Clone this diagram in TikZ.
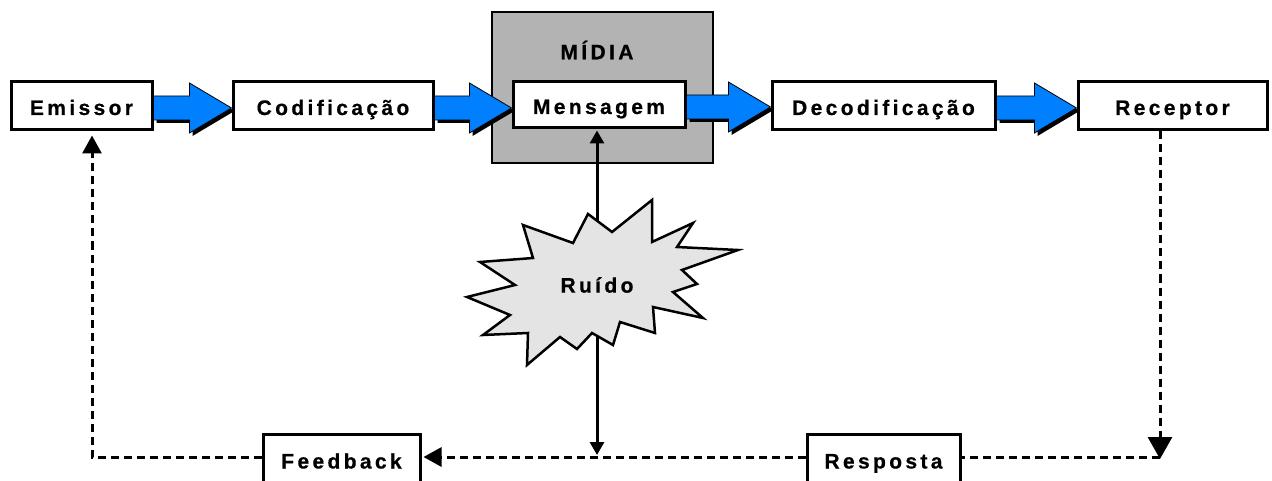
\documentclass[tikz,border=0pt]{standalone}
\usepackage{fontspec}
\newfontfamily\lblfont{Liberation Sans}[LetterSpace=16,BoldFeatures={FakeBold=0.6}]
\usetikzlibrary{arrows.meta,calc}
\definecolor{flowblue}{RGB}{0,128,255}
\definecolor{mediagray}{RGB}{179,179,179}
\definecolor{noisegray}{RGB}{228,228,228}

% block arrow between two boxes: shadow first, then the blue body
\newcommand\blockarrow[2]{%
  \path let \p1=(#1.east), \p2=(#2.west) in
    [fill=black] (\x1+3pt,\y1-2pt+12pt-3pt) -- (\x2-42pt+3pt,\y1-2pt+12pt-3pt)
      -- (\x2-42pt+3pt,\y1-2pt+25pt-3pt) -- (\x2+3pt,\y1-2pt-3pt)
      -- (\x2-42pt+3pt,\y1-2pt-25pt-3pt) -- (\x2-42pt+3pt,\y1-2pt-12pt-3pt)
      -- (\x1+3pt,\y1-2pt-12pt-3pt) -- cycle;
  \path let \p1=(#1.east), \p2=(#2.west) in
    [blockbody] (\x1,\y1-2pt+12pt) -- (\x2-42pt,\y1-2pt+12pt)
      -- (\x2-42pt,\y1-2pt+25pt) -- (\x2,\y1-2pt)
      -- (\x2-42pt,\y1-2pt-25pt) -- (\x2-42pt,\y1-2pt-12pt)
      -- (\x1,\y1-2pt-12pt) -- cycle;}

\begin{document}
\begin{tikzpicture}[x=1pt,y=-1pt,
  lbl/.style={font=\lblfont\bfseries\fontsize{21}{24}\selectfont},
  box/.style={lbl,draw,line width=3pt,fill=white,inner sep=0pt,minimum height=48pt,
    text height=18pt,text depth=0pt},
  openbox/.style={lbl,draw,line width=3pt,fill=white,anchor=north,inner xsep=0pt,
    inner ysep=12pt,text height=22pt,text depth=30pt},
  blockbody/.style={fill=flowblue,draw=black,line width=0.8pt},
  feed/.style={line width=3pt,dash pattern=on 8pt off 5pt},
  tip/.style={-{Triangle[length=18pt,width=19pt]}},
  solidtip/.style={{Triangle[length=13pt,width=14pt]}-{Triangle[length=13pt,width=14pt]}}]

\path[use as bounding box] (0,0) rectangle (1272,481);
\clip (0,0) rectangle (1272,481);

% the medium
\node[draw,line width=2pt,fill=mediagray,minimum width=221pt,minimum height=151pt,
  inner sep=0pt] (midia) at (602.5,87.5) {};
\node[lbl] (midialbl) at (597,50) {MÍDIA};

% main chain
\node[box,minimum width=141pt] (emissor) at (81.5,106) {Emissor};
\node[box,minimum width=200pt] (codif) at (333,106) {Codificação};
\node[box,minimum width=172pt,minimum height=46pt] (msg) at (599,105) {Mensagem};
\node[box,minimum width=223pt] (decod) at (883.5,106) {Decodificação};
\node[box,minimum width=189pt] (receptor) at (1172.5,106) {Receptor};

% return path
\node[openbox,minimum width=157pt] (feedback) at (341.5,433) {Feedback};
\node[openbox,minimum width=153pt] (resposta) at (883.5,433) {Resposta};

\coordinate (cR) at (1160,457);
\coordinate (cL) at (92,457);
\coordinate (noise) at (597,285);

\blockarrow{emissor}{codif}
\blockarrow{codif}{msg}
\blockarrow{msg}{decod}
\blockarrow{decod}{receptor}

% feedback loop
\draw[feed,-{Triangle[length=22pt,width=24pt]}] (receptor.south -| cR) -- ([yshift=-2pt]cR);
\draw[feed] (cR) -- (resposta.east |- cR);
\draw[feed,tip] (resposta.west |- cR) -- ([xshift=2pt]feedback.east |- cR);
\draw[feed,tip,shorten >=4pt] (feedback.west |- cR) -- (cL) -- (emissor.south -| cL);

% noise acting on the message
\draw[line width=3pt,solidtip,shorten <=1pt,shorten >=2pt] (msg.south -| noise) -- (noise |- cR);

\draw[fill=noisegray,line width=2.5pt,line join=miter]
  (523,225) -- (573,243) -- (588,214) -- (612,232) -- (652,200) -- (652,242)
  -- (693,223) -- (677,247) -- (738,250) -- (682,270) -- (697,284) -- (673,292)
  -- (703,318) -- (653,307) -- (655,333) -- (620,322) -- (613,345) -- (592,333)
  -- (577,349) -- (560,337) -- (527,365) -- (528,333) -- (483,335) -- (510,315)
  -- (467,297) -- (515,285) -- (480,262) -- (533,258) -- cycle;
\node[lbl] (ruido) at (noise) {Ruído};

\end{tikzpicture}
\end{document}
